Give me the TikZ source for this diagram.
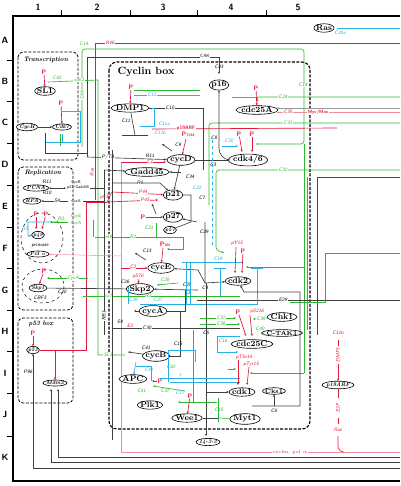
\documentclass[tikz,border=0pt]{standalone}
\usetikzlibrary{shapes.geometric,arrows.meta}
\definecolor{mg}{RGB}{45,185,45}
\definecolor{mc}{RGB}{40,175,230}
\definecolor{mr}{RGB}{225,25,60}
\definecolor{mp}{RGB}{240,140,160}
\begin{document}
\begin{tikzpicture}[x=1pt,y=-1pt,
 ov/.style={ellipse,draw=black,line width=0.6pt,inner xsep=-0.8pt,inner ysep=0.2pt,fill=white,font=\fontsize{8}{8}\selectfont\bfseries},
 ovs/.style={ov,inner xsep=-0.3pt,font=\fontsize{5.5}{6}\selectfont\bfseries\itshape},
 lb/.style={inner sep=0.4pt,font=\fontsize{5}{5}\selectfont\sffamily\itshape},
 lg/.style={lb,text=mg}, lc/.style={lb,text=mc}, lr/.style={lb,text=mr},
 pp/.style={inner sep=0.3pt,font=\fontsize{6.5}{6.5}\selectfont\sffamily\bfseries,text=mr},
 bk/.style={draw=black!75,line width=0.65pt},
 gl/.style={draw=mg,line width=0.65pt},
 cl/.style={draw=mc,line width=0.65pt},
 rl/.style={draw=mr,line width=0.65pt},
 pl/.style={draw=mp,line width=0.5pt},
 ar/.style={-{Stealth[length=2.4pt,width=2.2pt]}},
 box/.style={draw=black,dash pattern=on 3pt off 1.5pt,line width=0.8pt,rounded corners=5pt},
 hd/.style={font=\fontsize{6.5}{7}\selectfont\bfseries\itshape},
 ax/.style={font=\fontsize{9}{9}\selectfont\sffamily\bfseries}
]
\useasboundingbox (0,0) rectangle (400,486);
% axes
\draw[line width=1.1pt] (400,16) -- (13,16) -- (13,481) -- (400,481);
\foreach \x in {61,130,197,266} \draw[line width=0.8pt] (\x,16) -- (\x,10);
\foreach \y in {60,101,143,185,227,268,310,351,393,436} \draw[line width=0.8pt] (13,\y) -- (7,\y);
\node[ax] (c1) at (38,7) {1}; \node[ax] (c2) at (97,7) {2}; \node[ax] (c3) at (163,7) {3};
\node[ax] (c4) at (231,7) {4}; \node[ax] (c5) at (298,7) {5};
\node[ax] (rA) at (5,40) {A}; \node[ax] (rB) at (5,81) {B}; \node[ax] (rC) at (5,122) {C};
\node[ax] (rD) at (5,164) {D}; \node[ax] (rE) at (5,206) {E}; \node[ax] (rF) at (5,248) {F};
\node[ax] (rG) at (5,290) {G}; \node[ax] (rH) at (5,331) {H}; \node[ax] (rI) at (5,373) {I};
\node[ax] (rJ) at (5,414) {J}; \node[ax] (rK) at (5,457) {K};
% boxes
\draw[box] (18,52) rectangle (78,160);
\draw[box] (18,167) rectangle (73,310);
\draw[box] (18,318) rectangle (73,403);
\draw[box,line width=1.1pt,rounded corners=8pt] (109,62) rectangle (310,429);
\node[hd,anchor=west] (hT) at (20,60) {Transcription};
\node[hd,anchor=west] (hR) at (21,173) {Replication};
\node[hd,anchor=west] (hP) at (25,324) {p53 box};
\node[anchor=west,font=\fontsize{10.5}{11}\selectfont\bfseries] (hC) at (114,72) {Cyclin box};
\draw[dashed,line width=0.5pt] (42,238) ellipse (21 and 25);
\draw[dashed,line width=0.5pt] (43,286) ellipse (21 and 17);
\draw[draw=black!70,line width=0.9pt] (400,177) -- (317,177) -- (317,335);
% ---------- long lines ----------
\draw[rl] (400,43) -- (95,43) -- (95,200);
\node[lr,fill=white] (lR48) at (110,43) {R48};
\node[lr,rotate=90] (lRas2) at (92,172) {Ras};
\draw[gl,ar,rounded corners=3pt] (82,147) -- (82,49) -- (304,49) -- (304,144) -- (256,144);
\draw[gl] (304,144) -- (304,373);
\draw[gl,ar] (304,267) -- (246,267);
\draw[gl,ar] (304,373) -- (250,373);
\draw[gl] (307,177) -- (307,330);
\node[lg,fill=white] (lC14) at (84,44) {C14};
\node[lg,fill=white] (lC14b) at (303,85) {C14};
\node[lg,rotate=90,fill=white] (lC4b) at (82,95) {C4b};
\draw[bk,ar] (87,157) -- (87,57) -- (219,57) -- (219,74);
\node[lb,fill=white,font=\fontsize{4.5}{5}\selectfont\sffamily] (lCAK) at (205,56) {CAK};
\node[lb] (lC43) at (219,67) {C43};
\draw[gl,ar] (400,97) -- (258,97) -- (257,102);
\draw[cl] (232,97) -- (258,97);
\node[lg,fill=white] (lC24) at (283,97) {C24};
\draw[cl] (400,28) -- (337,28);
\node[lc] (lC24a) at (340,33) {C24a};
\draw[draw=black!40,line width=0.9pt,ar] (400,108) -- (277,108);
\draw[pl] (400,112) -- (277,112);
\node[lr,fill=white] (lC35) at (288,112) {C35};
\node[lr,fill=white,font=\fontsize{4.5}{5}\selectfont\sffamily\bfseries] (lMyc) at (318,112) {Myc/Max};
\draw[gl,rounded corners=3pt] (400,123) -- (209,123) -- (209,205);
\node[lg,fill=white] (lC31) at (288,123) {C31};
\draw[rl] (152,129) -- (337,128);
\node[pp,fill=white,font=\fontsize{5}{5}\selectfont\sffamily\bfseries] (lp19) at (186,128) {p19ARF};
\draw[gl,ar,rounded corners=3pt] (400,170) -- (216,170) -- (216,250) -- (224,253);
\node[lg,fill=white] (lC32) at (283,170) {C32};
\draw[gl] (400,253) -- (325,253) -- (325,302) -- (290,302);
\draw[bk] (197,300) -- (400,300);
\node[lb,fill=white] (lE29) at (283,300) {E29};
% green cdk1 / SL1 line
\draw[gl] (48,82) -- (98,80) -- (98,355) -- (125,355);
\node[lg,fill=white] (lC42a) at (57,78) {C42};
\node[lg,fill=white] (lcdk1) at (79,80) {cdk1};
\node[lg,fill=white] (lSL1) at (108,355) {SL1};
% pink E2F line
\draw[pl] (121,162) -- (121,452) -- (400,452);
\draw[rl,ar] (121,162) -- (166,162);
\node[lr,fill=white] (lC1) at (150,162) {C1};
\node[lr,fill=white,font=\fontsize{4.5}{5}\selectfont\rmfamily] (lcyc) at (290,452) {cyclin, pol $\alpha$};
% bottom lines
\draw[bk] (400,468) -- (33,468);
\draw[bk] (400,462) -- (51,462);
\draw[bk] (400,457) -- (58,457);
% ---------- nodes ----------
\node[ov] (Ras) at (324,28) {Ras};
\node[ov] (SL1) at (45,91) {SL1};
\node[ovs] (CycH) at (27,127) {CycH};
\node[ovs] (Cdk7) at (62,127) {Cdk7};
\node[ov] (DMP1) at (130,108) {DMP1};
\node[ov] (p16) at (219,85) {p16};
\node[ov] (cdc25A) at (257,110) {cdc25A};
\node[ov] (cdk46) at (248,160) {cdk4/6};
\node[ov] (cycD) at (181,160) {cycD};
\node[ov] (Gadd45) at (147,172) {Gadd45};
\node[ov] (p21) at (173,195) {p21};
\node[ov] (p27) at (173,217) {p27};
\node[ovs] (p57) at (170,230) {p57};
\node[ov] (cycE) at (161,268) {cycE};
\node[ov] (Skp2) at (140,289) {Skp2};
\node[ov] (cycA) at (153,311) {cycA};
\node[ov] (cycB) at (156,356) {cycB};
\node[ov] (cdk2) at (238,281) {cdk2};
\node[ov] (Chk1) at (282,317) {Chk1};
\node[ov,font=\fontsize{6}{6}\selectfont\bfseries] (CTAK1) at (282,333) {C-TAK1};
\node[ov] (cdc25C) at (252,344) {cdc25C};
\node[ov] (cdk1) at (242,392) {cdk1};
\node[ov,font=\fontsize{6}{6}\selectfont\bfseries] (Cks1) at (274,391) {Cks1};
\node[ov] (APC) at (133,379) {APC};
\node[ov] (Plk1) at (150,405) {Plk1};
\node[ov] (Wee1) at (187,418) {Wee1};
\node[ov] (Myt1) at (245,419) {Myt1};
\node[ovs] (p1433) at (208,442) {14-3-3};
\node[ovs] (p19) at (338,385) {p19ARF};
\node[ovs] (p53) at (33,350) {p53};
\node[ovs] (Mdm2) at (55,383) {Mdm2};
\node[ovs] (PCNA) at (36,188) {PCNA};
\node[ovs] (RPA) at (32,201) {RPA};
\node[ovs] (p49) at (38,235) {p49};
\node[ovs] (Pola) at (38,254) {Pol $\alpha$};
\node[ovs] (Skp1) at (38,288) {Skp1};
\node[lb] (lprim) at (40,245) {primase};
\node[lb] (lCBF3) at (40,298) {CBF3};
% ---------- transcription ----------
\node[pp] (P1) at (44,72) {P};
\draw[rl,ar] (P1) -- (SL1);
\draw[bk,ar] (CycH) -- (Cdk7);
\node[pp] (P2) at (61,103) {P};
\draw[rl,ar] (P2) -- (Cdk7);
\draw[cl] (62,111) -- (80,111) -- (80,142) -- (45,142) -- (45,133);
\draw[cl] (62,134) -- (62,142);
\draw[gl] (60,134) -- (60,146);
\draw[bk] (45,133) -- (45,153) -- (87,153);
% ---------- DMP1 / cycD ----------
\node[pp] (P3) at (131,87) {P};
\draw[rl,ar] (P3) -- (DMP1);
\draw[gl] (134,90) -- (200,90);
\draw[cl] (134,95) -- (200,95);
\node[lc,fill=white] (lC12) at (152,95) {C12};
\draw[bk] (DMP1) -- (203,108) -- (203,170);
\node[lb,fill=white] (lC10) at (170,108) {C10};
\draw[bk] (DMP1) -- (135,135);
\draw[bk,line width=1pt] (122,136) -- (148,136);
\node[lb] (lC11) at (126,121) {C11};
\draw[cl] (152,108) -- (154,108) -- (154,126) -- (140,126);
\node[lc] (lC11a) at (164,124) {C11a};
\node[lc] (lC11b) at (160,133) {C11b};
\draw[bk,ar] (87,157) -- (cycD);
\node[lb,fill=white] (lR11) at (150,156) {R11};
\node[lb,fill=white] (lPTA) at (108,157) {P/TA};
\node[pp] (P4) at (188,134) {P{\fontsize{3.5}{4}\selectfont T288}};
\draw[rl,ar] (186,139) -- (cycD);
\draw[bk,ar] (172,151) -- (162,144);
\node[lb] (lC9) at (178,145) {C9};
\draw[bk] (cycD) -- (cdk46);
\node[lb] (lC3) at (213,165) {C3};
\draw[bk,ar] (230,160) to[out=180,in=-90] (219,148) -- (p16);
\node[lb] (lC8) at (214,138) {C8};
\node[pp] (P5) at (239,134) {P}; \node[pp] (P6) at (252,134) {P};
\draw[rl,ar] (P5) -- (242,152); \draw[rl,ar] (P6) -- (252,152);
\draw[cl,ar] (222,146) -- (238,146);
\node[lc] (lC20) at (229,141) {C20};
\node[pp] (P7) at (256,88) {P};
\draw[rl,ar] (P7) -- (cdc25A);
% ---------- Gadd45 / p21 ----------
\draw[bk,ar] (104,170) -- (Gadd45);
\draw[bk,ar] (cycD) -- (p21);
\draw[bk,ar] (181,172) -- (Gadd45);
\node[lb] (lC34) at (190,177) {C34};
\draw[bk,ar] (112,183) -- (160,183) -- (p21);
\node[lb,fill=white] (lR6) at (140,183) {R6};
\draw[rl] (p53) -- (86,350) -- (86,202) -- (107,202);
\node[lr] (lp53) at (104,197) {p53};
\draw[rl,ar] (107,202) -- (112,192) -- (p21);
\draw[rl,ar] (107,202) -- (158,200);
\node[lr,fill=white] (lP44) at (143,192) {P44};
\node[lr,fill=white] (lP43) at (145,200) {P43};
\draw[bk] (p21) -- (191,195) -- (191,222) -- (p57);
\draw[bk,ar] (197,222) -- (p27);
\draw[bk,ar] (205,222) -- (205,283) -- (cdk2);
\node[lb] (lC7) at (202,198) {C7};
\node[lb] (lC29) at (204,232) {C29};
\node[lb] (lC4) at (205,288) {C4};
\draw[cl,dashed] (212,140) -- (212,245);
\node[lc] (lC22) at (197,188) {C22};
\node[pp] (P8) at (143,217) {P};
\draw[rl,ar] (P8) -- (p27);
\draw[bk,ar] (156,214) -- (152,204);
\draw[gl] (156,223) -- (156,237);
\node[lg] (lC21) at (149,228) {C21};
% ---------- cycE / Skp2 / cycA ----------
\draw[gl,ar] (95,237) -- (183,237) -- (183,249) -- (167,249);
\node[lg,fill=white] (lR2) at (133,237) {R2};
\node[lg,fill=white] (lp49) at (108,237) {p49};
\node[pp] (P9) at (165,244) {P{\fontsize{3.5}{4}\selectfont 380}};
\draw[rl,ar] (163,248) -- (cycE);
\draw[bk,ar] (146,260) -- (135,253);
\node[lb] (lC13) at (147,251) {C13};
\draw[rl,ar] (121,268) -- (cycE);
\node[lr,fill=white] (lC2) at (133,267) {C2};
\draw[bk,ar] (198,270) -- (cycE);
\draw[bk] (198,270) -- (205,283);
\node[lr] (lpS76) at (138,276) {pS76};
\draw[rl,ar] (138,279) -- (Skp2);
\draw[gl,ar] (178,283) -- (157,285);
\node[lg] (lC28) at (165,280) {C28};
\node[lb] (lC26) at (125,282) {C26};
\draw[bk,ar] (198,290) -- (Skp2);
\node[lb] (lC25) at (187,285) {C25};
\draw[bk] (Skp1) -- (Skp2);
\node[lb] (lC20b) at (62,292) {C20};
\draw[cl] (182,262) -- (243,262);
\node[lc] (lC19) at (218,259) {C19};
\draw[cl] (214,268) -- (226,268); \draw[cl] (220,268) -- (220,297);
\draw[cl] (251,268) -- (263,268); \draw[cl] (257,268) -- (257,304) -- (140,304);
\draw[cl] (186,262) -- (186,304); \draw[cl] (190,262) -- (190,304);
\draw[cl] (188,292) circle (2);
\draw[cl] (128,287) -- (128,304);
\node[lc] (lC29b) at (133,300) {C29};
\node[lc] (lC27) at (158,300) {C27};
\draw[gl] (83,296) -- (240,296);
\node[lg,fill=white] (lp20) at (108,296) {p27};
\node[lg,fill=white] (lR2b) at (148,296) {R2};
\node[lr] (lpY15) at (237,243) {pY15};
\node[pp] (P10) at (243,251) {P};
\draw[rl,ar] (236,247) -- (235,273); \draw[rl,ar] (P10) -- (242,273);
\draw[bk,ar] (252,406) -- (300,406) -- (300,292) -- (244,292) -- (cdk2);
\draw[bk,ar] (cycA) -- (134,311);
\draw[bk] (cycA) -- (185,311) -- (185,290);
\node[lb] (lS9b) at (120,322) {S9};
\node[lr] (lE2) at (130,326) {E2};
\draw[bk] (112,328) -- (240,328);
\node[lb,fill=white] (lC30) at (147,328) {C30};
\draw[bk] (180,311) -- (180,356) -- (cycB);
\node[lb] (lC15) at (178,344) {C15};
\node[lb] (lC5) at (206,333) {C5};
\draw[bk,ar] (206,283) -- (206,436);
\draw[bk,ar] (206,392) -- (cdk1);
\draw[bk] (104,170) -- (104,335);
\draw[bk] (112,150) -- (112,440);
\node[lb,rotate=90,fill=white] (lRB1) at (104,316) {RB1};
% ---------- cycB / APC ----------
\draw[bk,ar] (cycB) -- (128,352);
\node[lb] (lC41) at (146,348) {C41};
\draw[cl,ar] (136,362) -- (APC);
\draw[cl] (136,366) -- (151,366) -- (151,381);
\node[lc] (lC41b) at (149,370) {C41};
\node[pp] (P11) at (160,381) {P};
\draw[rl,ar] (P11) -- (152,381);
\node[lg] (lC42) at (171,367) {C42};
\node[lg] (lq) at (180,376) {?};
\draw[gl,ar] (185,391) -- (153,386);
\node[lg] (lC41c) at (143,391) {C41 ;};
\node[lg] (lC37b) at (165,391) {C37};
\draw[gl] (193,330) -- (193,402);
\draw[gl,ar] (217,402) -- (178,402);
\node[pp] (P12) at (190,396) {P};
\draw[rl,ar] (P12) -- (Wee1);
\draw[bk] (Wee1) -- (218,418);
\draw[gl] (218,418) -- (Myt1);
\draw[gl] (218,398) -- (218,422);
\node[lg] (lC15b) at (219,410) {C15};
\draw[cl] (168,382) -- (168,350) -- (195,350) -- (195,362);
\draw[cl] (160,378) -- (240,378);
\draw[cl] (170,382) -- (240,382);
\node[lc] (lC17) at (180,393) {C17};
% ---------- cdc25C / cdk1 ----------
\draw[gl,ar] (200,318) -- (236,318);
\draw[gl,ar] (200,324) -- (240,324);
\node[lg,fill=white] (lC37) at (221,318) {C37};
\node[lg,fill=white] (lC38) at (221,324) {C38};
\draw[gl,ar] (Chk1) -- (253,319);
\draw[gl,ar] (CTAK1) -- (262,334);
\node[lg,fill=white] (lC39) at (261,319) {C39};
\node[lg,fill=white] (lC40) at (260,329) {C40};
\node[pp] (P13) at (238,312) {P};
\node[lr] (lpS216) at (257,311) {pS216};
\draw[rl,ar] (P13) -- (246,336); \draw[rl,ar] (250,315) -- (252,336);
\draw[cl,ar] (240,336) -- (217,336) -- (217,352) -- (238,352);
\node[lg] (lC16) at (223,341) {C16};
\node[lr] (lpT14) at (244,357) {pThr14};
\node[lr] (lpY15b) at (251,364) {pTyr15};
\draw[rl,ar] (238,360) -- (238,385); \draw[rl,ar] (249,367) -- (247,385);
\draw[gl,ar] (228,369) -- (236,369);
\draw[bk,ar] (274,406) -- (Cks1);
\node[lb] (lC6) at (274,411) {C6};
% ---------- right side ----------
\node[lr] (lC31b) at (338,333) {C31b};
\node[lr,rotate=90] (lDMP1) at (338,355) {DMP1};
\draw[rl,ar] (338,340) -- (338,346) (338,364) -- (p19);
\draw[rl] (p19) -- (338,398);
\node[lr,rotate=90] (lE2F) at (338,408) {E2F};
\draw[rl] (338,418) -- (338,424);
\node[lr] (lRas) at (338,430) {Ras};
\draw[rl] (338,436) -- (338,446) to[out=-90,in=180] (344,452);
% ---------- replication ----------
\draw[bk,{Stealth[length=2pt]}-{Stealth[length=2pt]}] (PCNA) -- (66,188);
\node[lb] (lR11b) at (47,182) {R11};
\node[lb] (lR10) at (47,193) {R10};
\node[lb,font=\fontsize{4}{4}\selectfont\sffamily] (lCycB) at (76,182) {CycB};
\node[lb,font=\fontsize{4}{4}\selectfont\sffamily] (lcdG) at (78,188) {p21/Gadd45};
\draw[bk] (90,188) -- (104,188);
\draw[bk,ar] (68,201) -- (RPA);
\node[lb,fill=white] (lS9) at (57,201) {S9};
\node[lb,font=\fontsize{4}{4}\selectfont\sffamily] (lCycA) at (76,201) {CycA};
\draw[bk] (83,201) -- (104,201);
\node[pp] (P14) at (36,214) {P}; \node[pp] (P15) at (46,214) {P};
\draw[rl,ar] (P14) -- (36,229); \draw[rl,ar] (P15) -- (42,229);
\draw[cl,ar] (58,222) -- (28,222) -- (28,236) -- (p49);
\node[lc] (lR3) at (25,229) {R3};
\draw[gl,ar] (68,222) -- (50,222);
\node[lg] (lR2c) at (61,219) {R2};
\node[lg,font=\fontsize{4.5}{5}\selectfont\sffamily] (lCycE) at (76,216) {CycE};
\node[lg,font=\fontsize{4.5}{5}\selectfont\sffamily] (lCycA2) at (76,223) {CycA};
\draw[gl] (93,220) -- (93,237);
\draw[pl,ar] (121,256) -- (Pola);
\node[pp] (P16) at (44,271) {P};
\draw[rl,ar] (P16) -- (Skp1);
\draw[gl,ar] (88,278) -- (47,278);
\node[lg,fill=white] (lCycA3) at (73,278) {CycA};
% ---------- p53 box ----------
\node[pp] (P17) at (33,333) {P};
\draw[rl,ar] (P17) -- (p53);
\draw[rl,ar] (55,350) -- (Mdm2);
\draw[bk,ar] (33,468) -- (p53);
\draw[bk,ar] (51,462) -- (51,389);
\draw[bk,ar] (58,457) -- (58,389);
\node[lb] (lP96) at (28,372) {P96};
\end{tikzpicture}
\end{document}
